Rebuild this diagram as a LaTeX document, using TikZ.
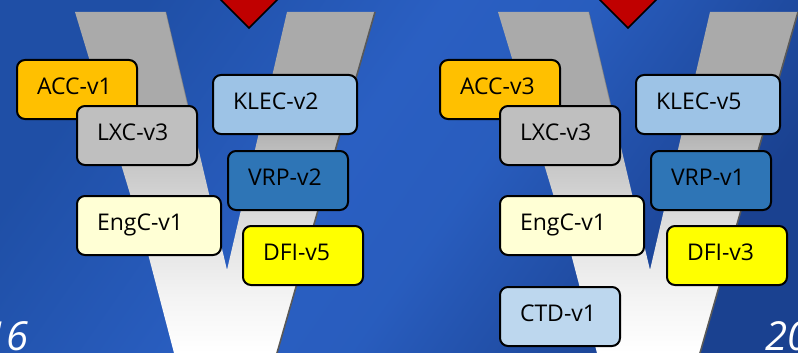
\documentclass[tikz,border=0pt]{standalone}
\usepackage{fontspec}
\setmainfont{Open Sans}

% box fills
\definecolor{accfill}{HTML}{FFC000}
\definecolor{lxcfill}{HTML}{BFBFBF}
\definecolor{klecfill}{HTML}{9DC3E6}
\definecolor{vrpfill}{HTML}{2E75B6}
\definecolor{engcfill}{HTML}{FFFFD5}
\definecolor{dfifill}{HTML}{FFFF00}
\definecolor{ctdfill}{HTML}{BDD7EE}
\definecolor{markred}{HTML}{C00000}

% backdrop blues
\definecolor{bgA}{HTML}{1F4FA6}
\definecolor{bgB}{HTML}{2A5FC2}
\definecolor{bgC}{HTML}{1A4190}

% greys of the big V
\definecolor{vgray}{HTML}{AAAAAA}
\definecolor{vpale}{HTML}{C6C6C6}
\definecolor{vmid}{HTML}{DEDEDE}
\definecolor{vlight}{HTML}{F4F4F4}

\pgfdeclarehorizontalshading{bgsky}{100bp}{color(0bp)=(bgA); color(25bp)=(bgA);
  color(45bp)=(bgB); color(55bp)=(bgB!85!bgA); color(75bp)=(bgC); color(100bp)=(bgC)}
\pgfdeclareverticalshading{vbar}{100bp}{color(0bp)=(white); color(25bp)=(white);
  color(33bp)=(vlight); color(44bp)=(vmid); color(53bp)=(vpale); color(59bp)=(vgray);
  color(100bp)=(vgray)}

\begin{document}
\begin{tikzpicture}[x=1pt,y=-1pt,
  tag/.style={draw=black, line width=2pt, rounded corners=8pt, anchor=north west,
    minimum height=59pt, inner xsep=20pt, inner ysep=0pt, align=left,
    text height=16.7pt, text depth=6pt, font=\fontsize{23}{27}\selectfont},
  narrow/.style={text width=80pt},
  wide/.style={text width=104pt},
  yeartext/.style={text=white, inner sep=0pt, font=\fontsize{40}{44}\selectfont\itshape},
  diamondmark/.style={fill=markred, draw=black, line width=1.5pt, line join=miter},
  vshadow/.style={draw=black!65, line width=1.6pt},
  vee/.pic={
    \shade[shading=vbar] (75,12) -- (166,12) -- (227,270) -- (287,12) -- (375,12)
      -- (277,353) -- (174,353) -- (147,250) -- cycle;
    \draw[vshadow] (375,12) -- (277,353);
    \draw[vshadow, draw opacity=0.35, line width=1pt] (166,12) -- (196,140);
  }]
\useasboundingbox (0,0) rectangle (798,353);
\clip (0,0) rectangle (798,353);

% backdrop
\shade[shading=bgsky, shading angle=-35] (0,0) rectangle (798,353);

% the two big V shapes
\pic at (0,0) {vee};
\pic at (423,0) {vee};

% red markers at the top
\draw[diamondmark] (249,28) -- (209,-12) -- (249,-52) -- (289,-12) -- cycle;
\draw[diamondmark] (628,28) -- (588,-12) -- (628,-52) -- (668,-12) -- cycle;

% first release
\node[tag, narrow, fill=accfill]  (acca) at (16,59)  {ACC-v1};
\node[tag, narrow, fill=lxcfill]  (lxca) at (76,105) {LXC-v3};
\node[tag, wide,   fill=klecfill] (kleca) at (212,74) {KLEC-v2};
\node[tag, narrow, fill=vrpfill]  (vrpa) at (227,150) {VRP-v2};
\node[tag, wide,   fill=engcfill] (engca) at (76,195) {EngC-v1};
\node[tag, narrow, fill=dfifill]  (dfia) at (242,225) {DFI-v5};

% second release
\node[tag, narrow, fill=accfill]  (accb) at (439,59)  {ACC-v3};
\node[tag, narrow, fill=lxcfill]  (lxcb) at (499,105) {LXC-v3};
\node[tag, wide,   fill=klecfill] (klecb) at (635,74) {KLEC-v5};
\node[tag, narrow, fill=vrpfill]  (vrpb) at (650,150) {VRP-v1};
\node[tag, wide,   fill=engcfill] (engcb) at (499,195) {EngC-v1};
\node[tag, narrow, fill=dfifill]  (dfib) at (666,225) {DFI-v3};
\node[tag, narrow, fill=ctdfill]  (ctdb) at (499,286) {CTD-v1};

% year captions
\node[yeartext, anchor=base east] (yeara) at (29,350) {16};
\node[yeartext, anchor=base west] (yearb) at (765,350) {20};
\end{tikzpicture}
\end{document}
